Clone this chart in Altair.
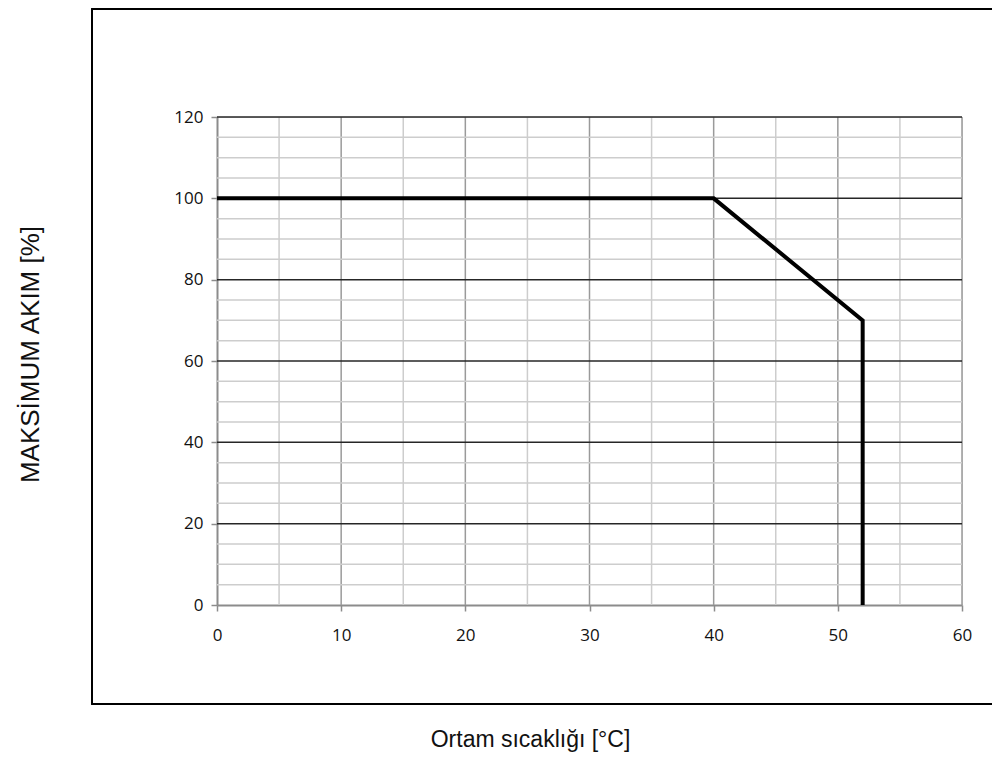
import altair as alt
import pandas as pd

# data
temp = [0, 40, 52, 52]
current = [100, 100, 70, 0]

x_ticks = [0, 10, 20, 30, 40, 50, 60]
y_ticks = [0, 20, 40, 60, 80, 100, 120]
x_grid = list(range(0, 61, 5))
y_grid = list(range(0, 121, 5))

W, H = 745, 488

df = pd.DataFrame({"t": temp, "c": current, "i": list(range(len(temp)))})
xg = pd.DataFrame({"t": x_grid})
yg = pd.DataFrame({"c": y_grid})

xs = alt.Scale(domain=[0, 60], nice=False, zero=False)
ys = alt.Scale(domain=[0, 120], nice=False, zero=False)

xaxis = alt.Axis(
    values=x_ticks, grid=False, domainColor="#8c8c8c", domainWidth=2,
    tickColor="#8c8c8c", tickWidth=1.5, tickSize=6, labelPadding=16,
    labelFlush=False, labelOverlap=False,
    labelFont="Open Sans", labelFontSize=17, labelColor="#111",
    title="Ortam sıcaklığı [°C]", titleFont="Liberation Sans",
    titleFontSize=23, titleFontWeight="normal", titleColor="#111",
    titleX=313, titleY=141, titleBaseline="alphabetic", titleAlign="center")
yaxis = alt.Axis(
    values=y_ticks, grid=False, domainColor="#8c8c8c", domainWidth=2,
    tickColor="#8c8c8c", tickWidth=1.5, tickSize=6, labelPadding=8,
    labelFlush=False, labelOverlap=False,
    labelFont="Open Sans", labelFontSize=17, labelColor="#111",
    title="MAKSİMUM AKIM [%]", titleFont="Liberation Sans",
    titleFontSize=26, titleFontWeight="normal", titleColor="#111",
    titleAngle=-90, titleX=-187, titleY=237, titleBaseline="middle",
    titleAlign="center")

X = alt.X("t:Q", scale=xs, axis=xaxis)
Y = alt.Y("c:Q", scale=ys, axis=yaxis)

v_light = alt.Chart(xg).transform_filter("datum.t % 10 != 0").mark_rule(
    color="#cdcdcd", strokeWidth=1.5).encode(x=X)
v_dark = alt.Chart(xg).transform_filter("datum.t % 10 == 0 && datum.t > 0").mark_rule(
    color="#9a9a9a", strokeWidth=1.5).encode(x=X)
h_light = alt.Chart(yg).transform_filter("datum.c % 20 != 0").mark_rule(
    color="#cdcdcd", strokeWidth=1.5).encode(y=Y)
h_dark = alt.Chart(yg).transform_filter("datum.c % 20 == 0 && datum.c > 0").mark_rule(
    color="#262626", strokeWidth=1.5).encode(y=Y)

line = alt.Chart(df).mark_line(color="black", strokeWidth=4, strokeJoin="miter").encode(
    x=X, y=Y, order="i:Q")

frame = alt.Chart(df).mark_rect(fill=None, stroke="black", strokeWidth=1.5).encode(
    x=alt.value(-125), x2=alt.value(820), y=alt.value(-108), y2=alt.value(587))

chart = alt.layer(frame, v_light, v_dark, h_light, h_dark, line).properties(
    width=W, height=H,
    autosize=alt.AutoSizeParams(type="none"),
    padding={"left": 209, "top": 109, "right": 30, "bottom": 147},
).configure_view(stroke=None).configure(background="white")

chart.save("out.html", embed_options={"renderer": "svg", "actions": False})
